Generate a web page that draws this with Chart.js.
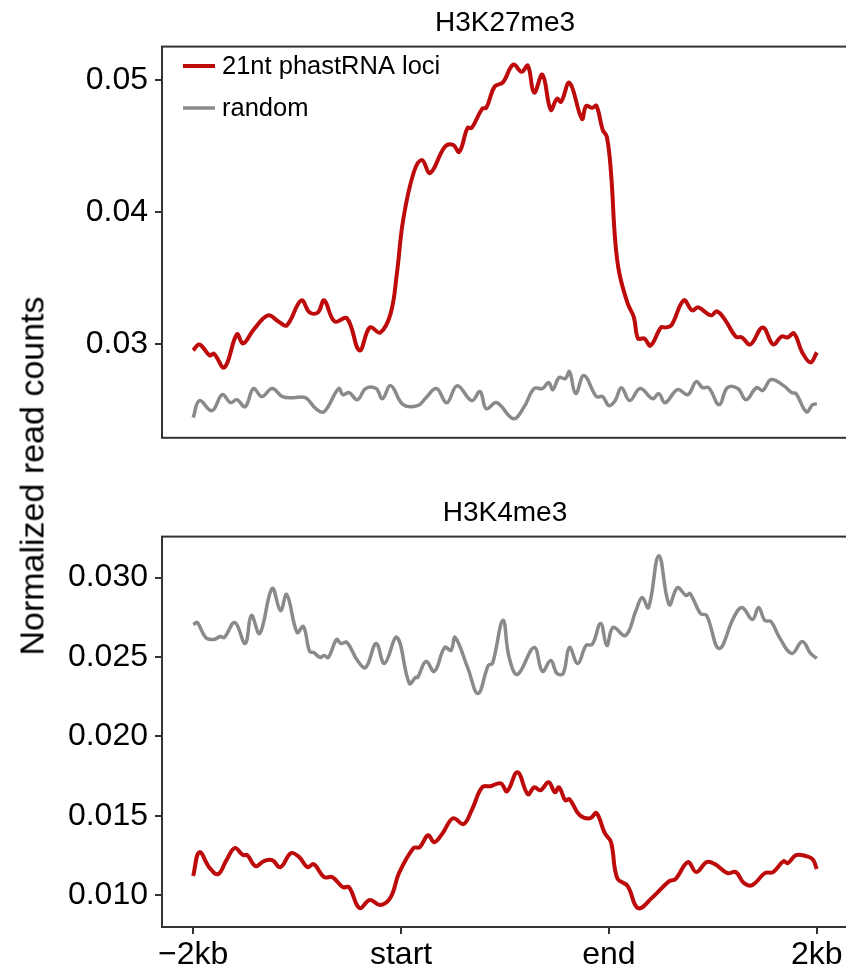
<!DOCTYPE html>
<html>
<head>
<meta charset="utf-8">
<script src="https://cdn.jsdelivr.net/npm/chart.js@4.4.1/dist/chart.umd.min.js"></script>
<style>
  body { margin: 0; width: 846px; height: 980px; overflow: hidden; background: #fff; position: relative; }
  canvas { position: absolute; left: 0; }
  #top { top: 0; }
  #bottom { top: 490px; }
  #ylabel {
    position: absolute; left: 32px; top: 476px;
    transform: translate(-50%, -50%) rotate(-90deg);
    font: 34px "Liberation Sans", Arial, sans-serif; color: #000; white-space: nowrap;
  }
</style>
</head>
<body>
<canvas id="top" width="880" height="464"></canvas>
<canvas id="bottom" width="880" height="490"></canvas>
<div id="ylabel">Normalized read counts</div>
<script>
// x positions are bins: 0 = -2kb, 100 = start, 200 = end, 300 = 2kb
const xTickValues = [0, 100, 200, 300];
const xTickLabels = ["\u22122kb", "start", "end", "2kb"];
const seriesNames = ["21nt phastRNA loci", "random"];

// H3K27me3
const k27PhastX = [0,3,8,10,15,21,24,29,36,41,45,52,56,60,63,68,74,80,85,90,95,98,101,106,110,114,121,125,128,132,134,139,141,145,149,154,158,161,164,168,172,175,177,181,187,189,192,194,197,199,201,203,205,209,212,214,217,220,225,227,230,236,240,243,249,252,256,261,264,268,274,279,283,286,289,293,297,300];
const k27PhastY = [0.02955,0.0300,0.02917,0.0293,0.02826,0.03076,0.03008,0.0311,0.0322,0.03174,0.03144,0.03333,0.03242,0.03242,0.03333,0.03174,0.03197,0.02955,0.03129,0.0309,0.03235,0.03538,0.0394,0.04295,0.04394,0.04295,0.04492,0.04508,0.04455,0.04636,0.04636,0.0478,0.04788,0.04947,0.0498,0.05114,0.0506,0.05106,0.04902,0.05038,0.04773,0.04856,0.04833,0.04977,0.04705,0.0480,0.04788,0.04803,0.04621,0.04568,0.04295,0.03788,0.03538,0.0331,0.03205,0.03045,0.03045,0.02992,0.03129,0.03129,0.03144,0.03333,0.03258,0.0328,0.0322,0.0325,0.03182,0.0306,0.03053,0.0300,0.03129,0.0300,0.0306,0.03053,0.03083,0.0294,0.02864,0.0294];
const k27RandomX = [0,3,9,14,18,21,25,29,33,38,43,48,54,59,63,70,72,75,79,83,88,91,95,101,108,112,117,122,127,134,138,141,146,154,159,164,168,171,173,176,179,181,184,188,194,197,200,203,206,210,215,221,224,227,233,238,242,245,248,253,257,262,266,271,274,278,284,288,290,295,298,300];
const k27RandomY = [0.02447,0.02576,0.025,0.02621,0.0256,0.02583,0.0253,0.02667,0.02606,0.02667,0.02606,0.02598,0.02598,0.02515,0.02492,0.02667,0.02621,0.02636,0.02583,0.02667,0.02667,0.0259,0.02689,0.02545,0.02538,0.02598,0.02667,0.0256,0.02689,0.02576,0.02644,0.02515,0.0256,0.02439,0.02523,0.02667,0.02667,0.02712,0.02659,0.0275,0.02742,0.02795,0.02629,0.02765,0.02606,0.02606,0.02538,0.02576,0.02674,0.02576,0.02667,0.0259,0.02629,0.0256,0.02659,0.02621,0.0272,0.02674,0.02674,0.02545,0.02674,0.02667,0.02583,0.02674,0.02652,0.02735,0.02689,0.02636,0.02629,0.02492,0.02545,0.02553];
const k27YTicks = [0.03, 0.04, 0.05];

// H3K4me3
const k4PhastX = [0,3,8,12,16,20,24,26,30,34,38,42,47,51,55,58,63,67,72,75,80,85,90,95,99,106,109,113,116,120,125,130,134,139,143,148,151,156,161,164,167,171,174,176,179,181,186,191,194,198,201,204,209,214,221,229,232,238,242,247,251,257,261,265,269,275,279,284,286,290,295,298,300];
const k4PhastY = [0.0112,0.0127,0.0117,0.01132,0.0122,0.01296,0.01252,0.01252,0.01182,0.01214,0.0122,0.01176,0.01264,0.01239,0.01176,0.01195,0.01113,0.01113,0.0105,0.0105,0.00918,0.00969,0.00937,0.00987,0.01138,0.01296,0.01302,0.01377,0.01333,0.0139,0.01484,0.01447,0.01535,0.01679,0.01686,0.01704,0.01654,0.01774,0.01635,0.01679,0.0166,0.01711,0.01648,0.01679,0.01597,0.01604,0.01503,0.01484,0.01516,0.0139,0.01333,0.01107,0.01057,0.00918,0.00987,0.01088,0.01101,0.01208,0.01145,0.01208,0.01195,0.01138,0.01145,0.01075,0.01063,0.01138,0.01145,0.01214,0.01201,0.01252,0.01245,0.01226,0.01164];
const k4RandomX = [0,2,6,10,13,15,20,25,28,32,38,42,45,50,53,56,58,61,63,65,69,71,74,79,83,88,92,98,104,107,108,112,116,121,124,126,132,137,142,144,149,152,156,164,168,172,175,178,181,185,189,192,196,199,202,208,213,216,219,224,229,233,237,239,244,247,253,260,264,269,272,275,278,282,288,293,297,300];
const k4RandomY = [0.02704,0.02717,0.02623,0.0261,0.02629,0.02623,0.02717,0.02585,0.02761,0.02648,0.02931,0.02792,0.02893,0.02654,0.02692,0.02535,0.02528,0.02497,0.02509,0.02497,0.0261,0.02585,0.02591,0.02478,0.02434,0.02585,0.02459,0.02623,0.02333,0.02371,0.02371,0.02472,0.02409,0.0256,0.02541,0.02623,0.02434,0.0227,0.02447,0.02459,0.0273,0.02497,0.0239,0.0256,0.02409,0.02478,0.02396,0.02396,0.0256,0.02459,0.02572,0.02579,0.02711,0.02572,0.02686,0.02635,0.02792,0.02874,0.02811,0.03138,0.0283,0.02937,0.02887,0.02899,0.02774,0.02761,0.02553,0.02748,0.02811,0.02736,0.02811,0.0273,0.02723,0.02623,0.02522,0.02597,0.02522,0.02491];
const k4YTicks = [0.010, 0.015, 0.020, 0.025, 0.030];

const FONT = "'Liberation Sans', Arial, Helvetica, sans-serif";
const RED = "#bd0a0a";
const GREY = "#8a8a8a";
const AXIS = "#333333";

function pts(xs, ys) {
    return xs.map((x, i) => ({ x: x, y: ys[i] }));
}

// frame around the panel
const boxPlugin = {
    id: "box",
    afterDraw(chart) {
        const a = chart.chartArea, ctx = chart.ctx;
        ctx.save();
        ctx.strokeStyle = AXIS;
        ctx.lineWidth = 2;
        ctx.strokeRect(a.left, a.top, a.right - a.left, a.bottom - a.top);
        ctx.restore();
    }
};

// legend drawn inside the top panel
const insideLegend = {
    id: "insideLegend",
    afterDraw(chart) {
        if (chart.canvas.id !== "top") return;
        const ctx = chart.ctx;
        const rows = [[RED, 4, 66], [GREY, 3.5, 108]];
        ctx.save();
        ctx.font = "25.5px " + FONT;
        ctx.textBaseline = "middle";
        ctx.fillStyle = "#000";
        rows.forEach((r, i) => {
            ctx.strokeStyle = r[0];
            ctx.lineWidth = r[1];
            ctx.beginPath();
            ctx.moveTo(183, r[2]);
            ctx.lineTo(215, r[2]);
            ctx.stroke();
            ctx.fillText(seriesNames[i], 222, r[2] + 1);
        });
        ctx.restore();
    }
};

function makePanel(id, title, phast, random, yMin, yMax, yTicks, decimals, showX) {
    return new Chart(document.getElementById(id).getContext("2d"), {
        type: "line",
        data: {
            datasets: [
                { label: seriesNames[0], data: phast, borderColor: RED, borderWidth: 4, pointRadius: 0, tension: 0.4, fill: false },
                { label: seriesNames[1], data: random, borderColor: GREY, borderWidth: 3.5, pointRadius: 0, tension: 0.4, fill: false }
            ]
        },
        options: {
            responsive: false,
            animation: false,
            layout: { padding: { left: 0, top: 0, right: 32, bottom: showX ? 0 : 13 } },
            scales: {
                x: {
                    type: "linear",
                    min: -15,
                    max: 315,
                    display: showX,
                    afterBuildTicks: s => { s.ticks = xTickValues.map(v => ({ value: v })); },
                    afterFit: s => { s.height = showX ? 53 : 0; },
                    grid: { display: true, drawOnChartArea: false, drawTicks: true, tickLength: 7, color: AXIS, lineWidth: 2 },
                    border: { display: false },
                    ticks: {
                        padding: 2,
                        color: "#000",
                        font: { family: FONT, size: 32 },
                        maxRotation: 0,
                        callback: v => xTickLabels[xTickValues.indexOf(v)]
                    }
                },
                y: {
                    min: yMin,
                    max: yMax,
                    afterBuildTicks: s => { s.ticks = yTicks.map(v => ({ value: v })); },
                    afterFit: s => { s.width = 162; },
                    grid: { display: true, drawOnChartArea: false, drawTicks: true, tickLength: 7, color: AXIS, lineWidth: 2 },
                    border: { display: false },
                    ticks: {
                        padding: 7,
                        color: "#000",
                        font: { family: FONT, size: 32 },
                        callback: v => v.toFixed(decimals)
                    }
                }
            },
            plugins: {
                legend: { display: false },
                tooltip: { enabled: false },
                title: {
                    display: true,
                    text: title,
                    fullSize: false,
                    color: "#000",
                    font: { family: FONT, size: 28, weight: "normal" },
                    padding: { top: 6, bottom: 7 }
                }
            }
        },
        plugins: [boxPlugin, insideLegend]
    });
}

makePanel("top", "H3K27me3", pts(k27PhastX, k27PhastY), pts(k27RandomX, k27RandomY), 0.02295, 0.0525, k27YTicks, 2, false);
makePanel("bottom", "H3K4me3", pts(k4PhastX, k4PhastY), pts(k4RandomX, k4RandomY), 0.00799, 0.03258, k4YTicks, 3, true);
</script>
</body>
</html>
